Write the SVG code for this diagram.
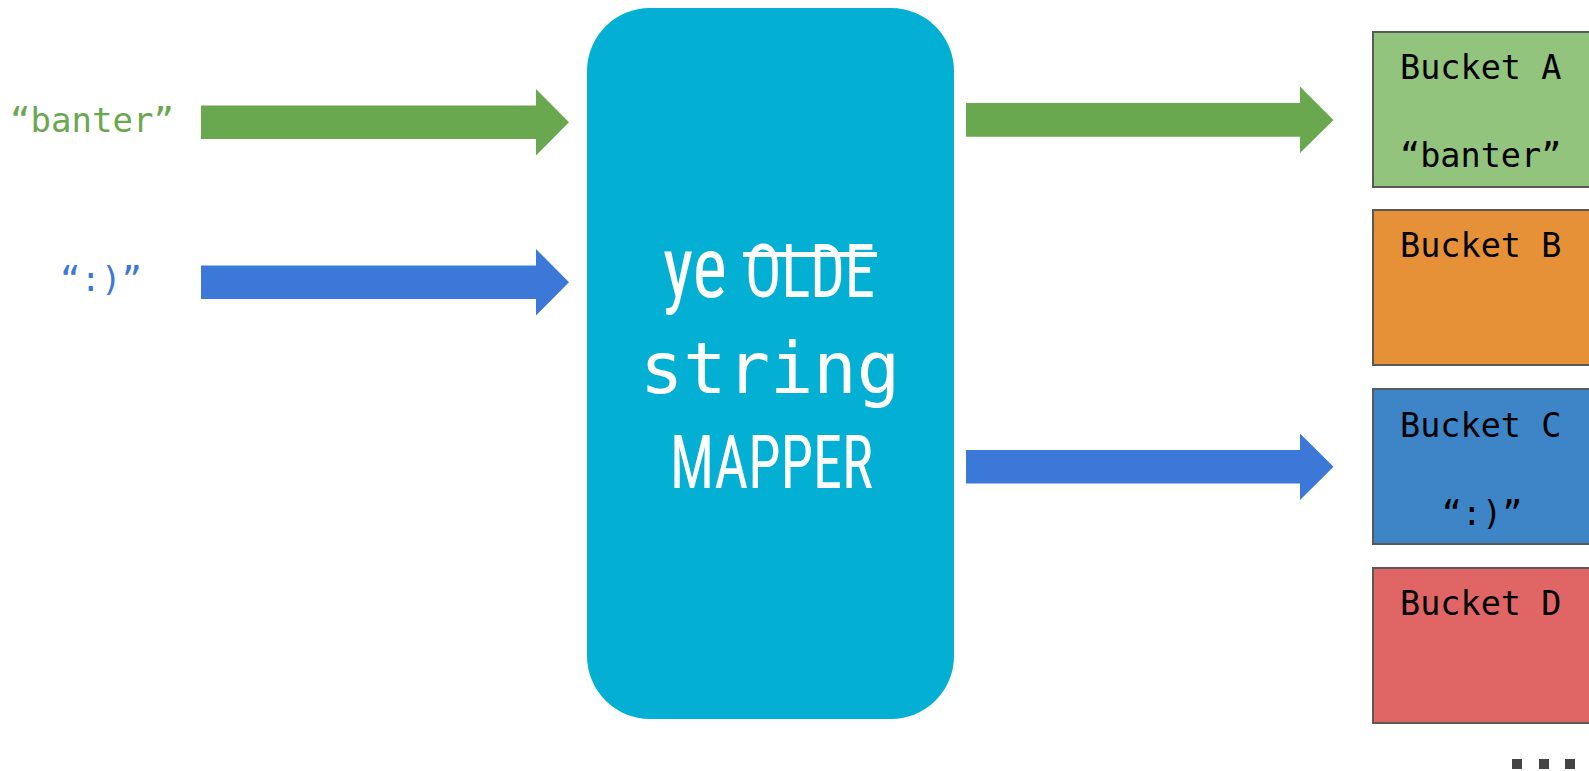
<svg xmlns="http://www.w3.org/2000/svg" width="1589" height="771" viewBox="0 0 1589 771">
<style>
.mono{font-family:"DejaVu Sans Mono","Liberation Mono",monospace;}
.cond{font-family:"Liberation Sans Narrow","Roboto Condensed","Liberation Sans",sans-serif;fill:#ffffff;}
.lbl{font-size:34px;}
.bk{font-size:33.5px;fill:#000000;}
.bucket{stroke:#595959;stroke-width:2;}
</style>
<rect width="1589" height="771" fill="#ffffff"/>
<g id="label-banter"><text class="mono lbl" x="92" y="132" text-anchor="middle" fill="#6aa84f">“banter”</text></g>
<g id="label-smile"><text class="mono lbl" x="101" y="291" text-anchor="middle" fill="#3c78d8">“:)”</text></g>
<g id="mapper">
<rect x="587" y="8" width="367" height="711" rx="63" ry="63" fill="#03afd2"/>
<text class="cond" x="663" y="297" font-size="86" textLength="64" lengthAdjust="spacingAndGlyphs">ye</text>
<text class="cond" x="745" y="297" font-size="74" textLength="130" lengthAdjust="spacingAndGlyphs">OLDE</text>
<rect x="743" y="252" width="134" height="5" fill="#ffffff"/>
<text class="mono" x="770" y="393" font-size="72" text-anchor="middle" fill="#ffffff">string</text>
<text class="cond" x="670" y="488" font-size="74" textLength="203" lengthAdjust="spacingAndGlyphs">MAPPER</text>
</g>
<g id="bucket-a"><rect class="bucket" x="1373" y="32" width="230" height="155" fill="#93c47d"/>
<text class="mono bk" x="1400" y="79">Bucket A</text>
<text class="mono bk" x="1400" y="167">“banter”</text></g>
<g id="bucket-b"><rect class="bucket" x="1373" y="210" width="230" height="155" fill="#e69138"/>
<text class="mono bk" x="1400" y="257">Bucket B</text></g>
<g id="bucket-c"><rect class="bucket" x="1373" y="389" width="230" height="155" fill="#3d85c6"/>
<text class="mono bk" x="1400" y="437">Bucket C</text>
<text class="mono bk" x="1482" y="525" text-anchor="middle">“:)”</text></g>
<g id="bucket-d"><rect class="bucket" x="1373" y="568" width="230" height="155" fill="#e06666"/>
<text class="mono bk" x="1400" y="615">Bucket D</text></g>
<g id="more" fill="#444444">
<rect x="1512" y="759" width="10" height="10"/>
<rect x="1539" y="759" width="10" height="10"/>
<rect x="1565" y="759" width="10" height="10"/>
</g>
<g id="connectors">
<polygon fill="#6aa84f" points="201,105.5 536,105.5 536,89 569,122.2 536,155.5 536,139 201,139"/>
<polygon fill="#3c78d8" points="201,265.5 536,265.5 536,249 569,282.2 536,315.5 536,299 201,299"/>
<polygon fill="#6aa84f" points="966,103 1300,103 1300,86.5 1333.5,120 1300,153 1300,136.7 966,136.7"/>
<polygon fill="#3c78d8" points="966,450 1300,450 1300,433.5 1333.5,466.7 1300,500 1300,483.4 966,483.4"/>
</g>
</svg>
